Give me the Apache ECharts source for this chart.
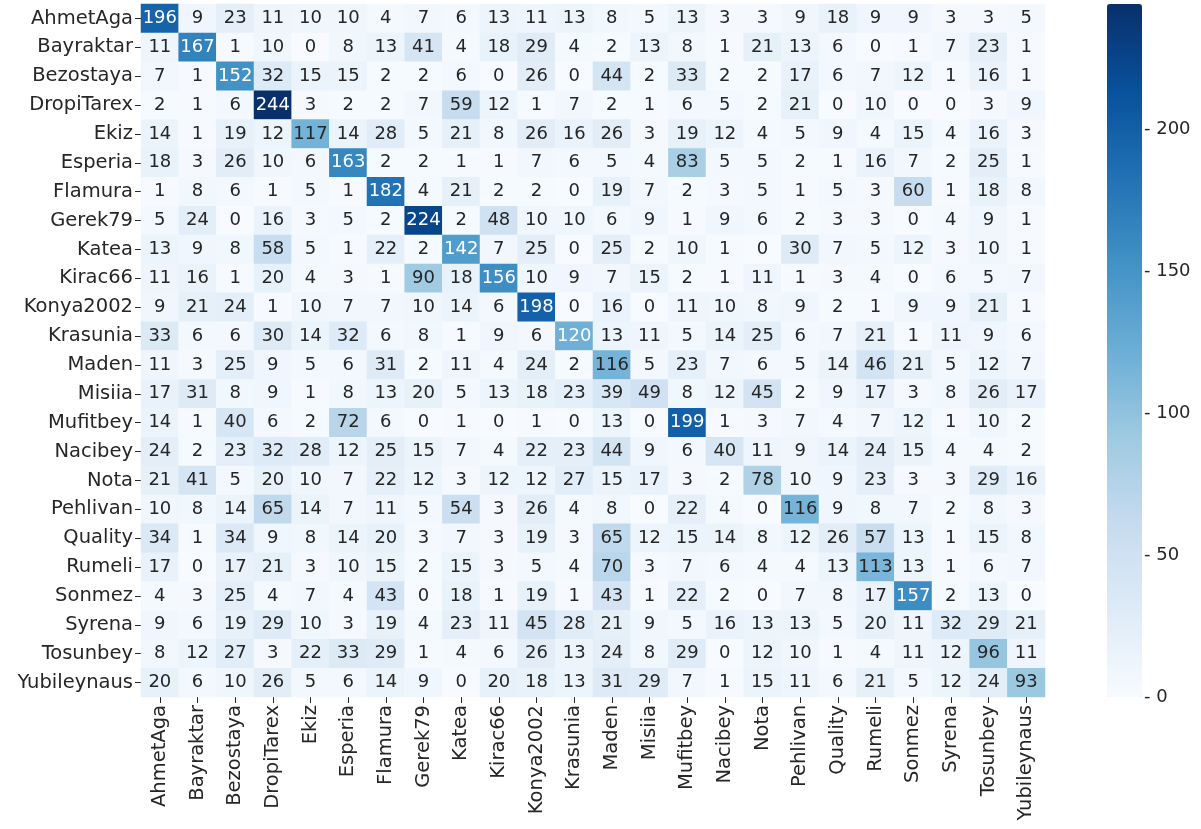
<!DOCTYPE html>
<html>
<head>
<meta charset="utf-8">
<script src="https://cdn.jsdelivr.net/npm/echarts@6/dist/echarts.min.js"></script>
<style>
html,body{margin:0;padding:0;background:#fff;}
#c{width:1201px;height:829px;}
</style>
</head>
<body>
<div id="c"></div>
<script>
const categories = ["AhmetAga","Bayraktar","Bezostaya","DropiTarex","Ekiz","Esperia","Flamura","Gerek79","Katea","Kirac66","Konya2002","Krasunia","Maden","Misiia","Mufitbey","Nacibey","Nota","Pehlivan","Quality","Rumeli","Sonmez","Syrena","Tosunbey","Yubileynaus"];

const rowAhmetAga   = [196,9,23,11,10,10,4,7,6,13,11,13,8,5,13,3,3,9,18,9,9,3,3,5];
const rowBayraktar  = [11,167,1,10,0,8,13,41,4,18,29,4,2,13,8,1,21,13,6,0,1,7,23,1];
const rowBezostaya  = [7,1,152,32,15,15,2,2,6,0,26,0,44,2,33,2,2,17,6,7,12,1,16,1];
const rowDropiTarex = [2,1,6,244,3,2,2,7,59,12,1,7,2,1,6,5,2,21,0,10,0,0,3,9];
const rowEkiz       = [14,1,19,12,117,14,28,5,21,8,26,16,26,3,19,12,4,5,9,4,15,4,16,3];
const rowEsperia    = [18,3,26,10,6,163,2,2,1,1,7,6,5,4,83,5,5,2,1,16,7,2,25,1];
const rowFlamura    = [1,8,6,1,5,1,182,4,21,2,2,0,19,7,2,3,5,1,5,3,60,1,18,8];
const rowGerek79    = [5,24,0,16,3,5,2,224,2,48,10,10,6,9,1,9,6,2,3,3,0,4,9,1];
const rowKatea      = [13,9,8,58,5,1,22,2,142,7,25,0,25,2,10,1,0,30,7,5,12,3,10,1];
const rowKirac66    = [11,16,1,20,4,3,1,90,18,156,10,9,7,15,2,1,11,1,3,4,0,6,5,7];
const rowKonya2002  = [9,21,24,1,10,7,7,10,14,6,198,0,16,0,11,10,8,9,2,1,9,9,21,1];
const rowKrasunia   = [33,6,6,30,14,32,6,8,1,9,6,120,13,11,5,14,25,6,7,21,1,11,9,6];
const rowMaden      = [11,3,25,9,5,6,31,2,11,4,24,2,116,5,23,7,6,5,14,46,21,5,12,7];
const rowMisiia     = [17,31,8,9,1,8,13,20,5,13,18,23,39,49,8,12,45,2,9,17,3,8,26,17];
const rowMufitbey   = [14,1,40,6,2,72,6,0,1,0,1,0,13,0,199,1,3,7,4,7,12,1,10,2];
const rowNacibey    = [24,2,23,32,28,12,25,15,7,4,22,23,44,9,6,40,11,9,14,24,15,4,4,2];
const rowNota       = [21,41,5,20,10,7,22,12,3,12,12,27,15,17,3,2,78,10,9,23,3,3,29,16];
const rowPehlivan   = [10,8,14,65,14,7,11,5,54,3,26,4,8,0,22,4,0,116,9,8,7,2,8,3];
const rowQuality    = [34,1,34,9,8,14,20,3,7,3,19,3,65,12,15,14,8,12,26,57,13,1,15,8];
const rowRumeli     = [17,0,17,21,3,10,15,2,15,3,5,4,70,3,7,6,4,4,13,113,13,1,6,7];
const rowSonmez     = [4,3,25,4,7,4,43,0,18,1,19,1,43,1,22,2,0,7,8,17,157,2,13,0];
const rowSyrena     = [9,6,19,29,10,3,19,4,23,11,45,28,21,9,5,16,13,13,5,20,11,32,29,21];
const rowTosunbey   = [8,12,27,3,22,33,29,1,4,6,26,13,24,8,29,0,12,10,1,4,11,12,96,11];
const rowYubileynaus= [20,6,10,26,5,6,14,9,0,20,18,13,31,29,7,1,15,11,6,21,5,12,24,93];

const colorbarTicks = [0,50,100,150,200];

const rows = [rowAhmetAga,rowBayraktar,rowBezostaya,rowDropiTarex,rowEkiz,rowEsperia,rowFlamura,rowGerek79,rowKatea,rowKirac66,rowKonya2002,rowKrasunia,rowMaden,rowMisiia,rowMufitbey,rowNacibey,rowNota,rowPehlivan,rowQuality,rowRumeli,rowSonmez,rowSyrena,rowTosunbey,rowYubileynaus];

let vmax = 0;
rows.forEach(r => r.forEach(v => { if (v > vmax) vmax = v; }));

const data = [];
rows.forEach((r, yi) => {
  r.forEach((v, xi) => {
    data.push({
      value: [xi, yi, v],
      label: { color: v >= 119 ? '#ffffff' : '#262626' }
    });
  });
});

const FONT = 'DejaVu Sans';
const TXT = '#262626';
const GL = 141, GT = 4, GW = 904, GH = 693;
const CBL = 1107, CBW = 35;

const chart = echarts.init(document.getElementById('c'), null, {renderer: 'canvas'});
chart.setOption({
  backgroundColor: '#ffffff',
  animation: false,
  textStyle: { fontFamily: FONT },
  grid: [
    { left: GL, top: GT, width: GW, height: GH },
    { left: CBL, top: GT, width: CBW, height: GH }
  ],
  xAxis: [
    {
      type: 'category', data: categories, gridIndex: 0, position: 'bottom',
      axisLine: { show: false },
      axisTick: { show: true, alignWithLabel: true, length: 6, lineStyle: { color: TXT } },
      axisLabel: { rotate: 90, fontSize: 19.5, color: TXT, fontFamily: FONT, margin: 8, interval: 0 },
      splitArea: { show: false }, splitLine: { show: false }
    },
    { type: 'value', gridIndex: 1, show: false, min: 0, max: 1 }
  ],
  yAxis: [
    {
      type: 'category', data: categories, gridIndex: 0, inverse: true,
      axisLine: { show: false },
      axisTick: { show: true, alignWithLabel: true, length: 6, lineStyle: { color: TXT } },
      axisLabel: { fontSize: 19.5, color: TXT, fontFamily: FONT, margin: 8, interval: 0 },
      splitArea: { show: false }, splitLine: { show: false }
    },
    {
      type: 'value', gridIndex: 1, position: 'right', min: 0, max: vmax,
      axisLine: { show: false },
      splitLine: { show: false },
      axisTick: { show: false },
      axisLabel: {
        show: true, fontSize: 18, color: TXT, fontFamily: FONT, margin: 2,
        customValues: colorbarTicks,
        formatter: v => '- ' + v
      }
    }
  ],
  visualMap: {
    type: 'continuous',
    min: 0, max: vmax,
    seriesIndex: 0,
    calculable: false,
    realtime: false,
    orient: 'vertical',
    left: CBL, top: GT,
    padding: 0,
    itemWidth: CBW, itemHeight: GH,
    text: null,
    showLabel: false,
    hoverLink: false,
    inRange: { color: ['#f7fbff','#deebf7','#c6dbef','#9ecae1','#6baed6','#4292c6','#2171b5','#08519c','#08306b'] }
  },
  series: [{
    type: 'heatmap',
    xAxisIndex: 0, yAxisIndex: 0,
    data: data,
    itemStyle: { borderWidth: 0 },
    label: { show: true, fontSize: 18, fontFamily: FONT },
    emphasis: { disabled: true }
  }]
});
</script>
</body>
</html>
